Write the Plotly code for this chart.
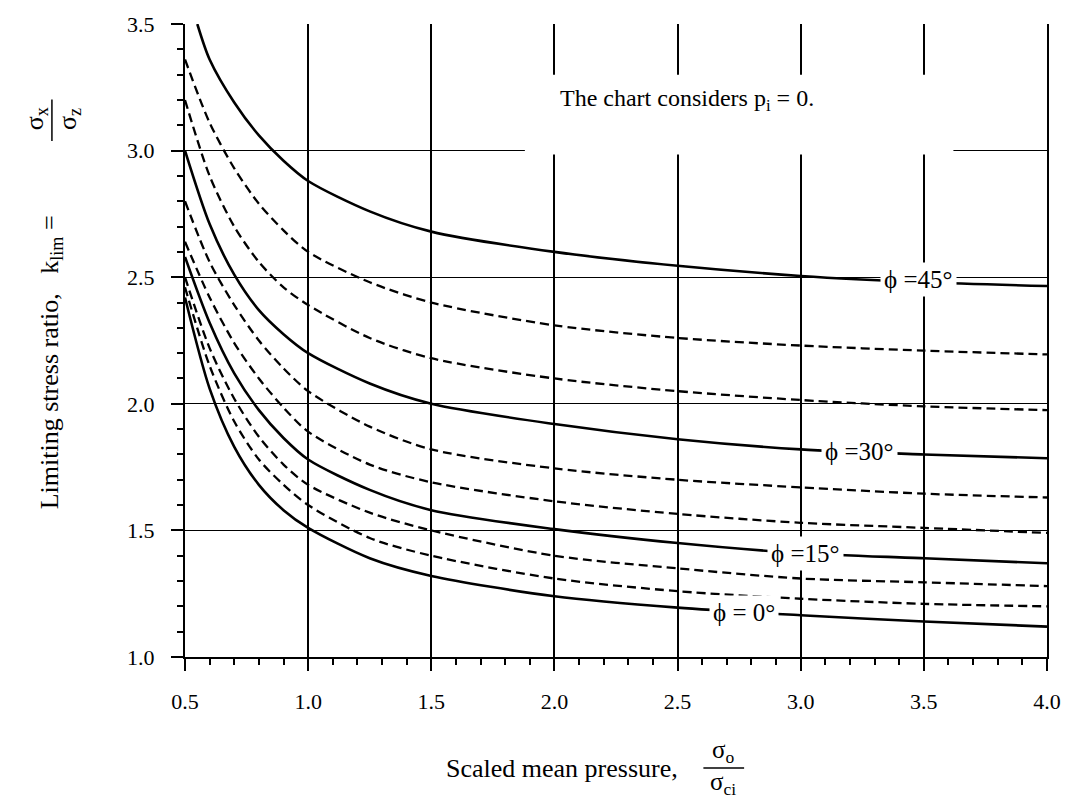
import plotly.graph_objects as go

# ---------------- data ----------------
X = [0.5, 0.6, 0.7, 0.8, 0.9, 1.0, 1.25, 1.5, 2.0, 2.5, 3.0, 3.5, 4.0]
X45 = [0.55, 0.6, 0.7, 0.8, 0.9, 1.0, 1.25, 1.5, 2.0, 2.5, 3.0, 3.5, 4.0]

k_phi0 = [2.42, 2.06, 1.83, 1.68, 1.58, 1.51, 1.39, 1.32, 1.24, 1.195, 1.165, 1.14, 1.12]
k_phi5 = [2.46, 2.15, 1.93, 1.78, 1.68, 1.60, 1.47, 1.40, 1.31, 1.26, 1.23, 1.21, 1.20]
k_phi10 = [2.50, 2.22, 2.02, 1.87, 1.76, 1.68, 1.57, 1.50, 1.40, 1.35, 1.31, 1.295, 1.28]
k_phi15 = [2.58, 2.32, 2.12, 1.975, 1.865, 1.78, 1.66, 1.58, 1.505, 1.45, 1.41, 1.39, 1.37]
k_phi20 = [2.64, 2.42, 2.24, 2.10, 1.985, 1.89, 1.76, 1.69, 1.615, 1.565, 1.53, 1.51, 1.49]
k_phi25 = [2.80, 2.56, 2.39, 2.25, 2.14, 2.05, 1.91, 1.82, 1.745, 1.70, 1.67, 1.645, 1.63]
k_phi30 = [3.00, 2.71, 2.51, 2.37, 2.275, 2.20, 2.08, 2.00, 1.92, 1.86, 1.82, 1.80, 1.785]
k_phi35 = [3.20, 2.90, 2.70, 2.56, 2.46, 2.39, 2.26, 2.18, 2.10, 2.05, 2.015, 1.99, 1.975]
k_phi40 = [3.36, 3.11, 2.93, 2.79, 2.685, 2.60, 2.48, 2.40, 2.31, 2.26, 2.23, 2.21, 2.195]
k_phi45 = [3.50, 3.36, 3.19, 3.06, 2.96, 2.88, 2.76, 2.68, 2.60, 2.545, 2.505, 2.48, 2.465]

phi_values = [0, 5, 10, 15, 20, 25, 30, 35, 40, 45]
series = [k_phi0, k_phi5, k_phi10, k_phi15, k_phi20, k_phi25, k_phi30, k_phi35, k_phi40, k_phi45]

x_ticks = [0.5, 1.0, 1.5, 2.0, 2.5, 3.0, 3.5, 4.0]
y_ticks = [1.0, 1.5, 2.0, 2.5, 3.0, 3.5]

# curve labels
label_text = ["\u03d5 =45\u00b0", "\u03d5 =30\u00b0", "\u03d5 =15\u00b0", "\u03d5 = 0\u00b0"]
label_x = [3.48, 3.24, 3.02, 2.77]
label_k = [2.49, 1.81, 1.41, 1.175]

FONT = "Liberation Serif, Times New Roman, serif"

fig = go.Figure()
for phi, ks in zip(phi_values, series):
    xs = X45 if phi == 45 else X
    solid = (phi % 15 == 0)
    fig.add_trace(go.Scatter(
        x=xs, y=ks, mode="lines",
        line=dict(color="black", width=2.6 if solid else 2.3,
                  dash="solid" if solid else "9px,5px",
                  shape="spline", smoothing=0.8),
        name=f"phi={phi}", showlegend=False, hoverinfo="skip",
    ))

W, H = 1073, 800
L, R, T, B = 185, 20, 19, 143
pw, ph = W - L - R, H - T - B


def px(xp):
    return (xp - L) / pw


def py(yp):
    return (H - B - yp) / ph


annotations = []
for t, xv, kv in zip(label_text, label_x, label_k):
    annotations.append(dict(
        x=xv, y=kv, xref="x", yref="y", text=t, showarrow=False,
        font=dict(family=FONT, size=25, color="black"),
        bgcolor="white", borderpad=3, xanchor="center", yanchor="middle"))

annotations.append(dict(
    x=2.54, y=3.2, xref="x", yref="y",
    text="The chart considers p<sub>i</sub> = 0.", showarrow=False,
    font=dict(family=FONT, size=24, color="black"),
    xanchor="center", yanchor="middle"))

# x axis title with fraction
annotations += [
    dict(x=px(565), y=py(769), xref="paper", yref="paper",
         text="Scaled mean pressure,", showarrow=False,
         font=dict(family=FONT, size=26, color="black"),
         xanchor="center", yanchor="middle"),
    dict(x=px(727), y=py(752), xref="paper", yref="paper",
         text="\u03c3<sub>o</sub>", showarrow=False,
         font=dict(family=FONT, size=25, color="black"),
         xanchor="center", yanchor="middle"),
    dict(x=px(727), y=py(784), xref="paper", yref="paper",
         text="\u03c3<sub>ci</sub>", showarrow=False,
         font=dict(family=FONT, size=25, color="black"),
         xanchor="center", yanchor="middle"),
]
# y axis title with fraction (rotated)
annotations += [
    dict(x=px(50), y=py(360), xref="paper", yref="paper",
         text="Limiting stress ratio,   k<sub>lim</sub> =", showarrow=False,
         textangle=-90, font=dict(family=FONT, size=26, color="black"),
         xanchor="center", yanchor="middle"),
    dict(x=px(35), y=py(115), xref="paper", yref="paper",
         text="\u03c3<sub>x</sub>", showarrow=False, textangle=-90,
         font=dict(family=FONT, size=26, color="black"),
         xanchor="center", yanchor="middle"),
    dict(x=px(68), y=py(115), xref="paper", yref="paper",
         text="\u03c3<sub>z</sub>", showarrow=False, textangle=-90,
         font=dict(family=FONT, size=26, color="black"),
         xanchor="center", yanchor="middle"),
]

shapes = [
    # white area behind the note
    dict(type="rect", xref="x", yref="y", x0=1.88, x1=3.62, y0=2.985, y1=3.30,
         fillcolor="white", line=dict(width=0), layer="above"),
    # fraction bars
    dict(type="line", xref="paper", yref="paper", x0=px(707), x1=px(748),
         y0=py(769), y1=py(769), line=dict(color="black", width=1.5)),
    dict(type="line", xref="paper", yref="paper", x0=px(51), x1=px(51),
         y0=py(95), y1=py(137), line=dict(color="black", width=1.5)),
]

fig.update_layout(
    width=W, height=H,
    margin=dict(l=L, r=R, t=T, b=B, pad=0),
    paper_bgcolor="white", plot_bgcolor="white",
    font=dict(family=FONT, size=22, color="black"),
    annotations=annotations, shapes=shapes,
    xaxis=dict(range=[0.5, 4.0], tickvals=x_ticks,
               ticktext=[f"{v:.1f}" for v in x_ticks],
               showgrid=True, gridcolor="black", gridwidth=1.7,
               showline=True, linecolor="black", linewidth=2, mirror=False,
               ticks="outside", ticklen=12, tickwidth=1.5, tickcolor="black",
               ticklabelstandoff=12, zeroline=False,
               minor=dict(dtick=0.1, ticks="outside", ticklen=6, tickwidth=1.5,
                          tickcolor="black", showgrid=False),
               tickfont=dict(family=FONT, size=22, color="black")),
    yaxis=dict(range=[1.0, 3.5], tickvals=y_ticks,
               ticktext=[f"{v:.1f}" for v in y_ticks],
               showgrid=True, gridcolor="black", gridwidth=1.3,
               showline=True, linecolor="black", linewidth=2, mirror=True,
               ticks="outside", ticklen=12, tickwidth=1.5, tickcolor="black",
               ticklabelstandoff=12, zeroline=False,
               minor=dict(dtick=0.1, ticks="outside", ticklen=6, tickwidth=1.5,
                          tickcolor="black", showgrid=False),
               tickfont=dict(family=FONT, size=22, color="black")),
)

fig.write_html("out.html")
